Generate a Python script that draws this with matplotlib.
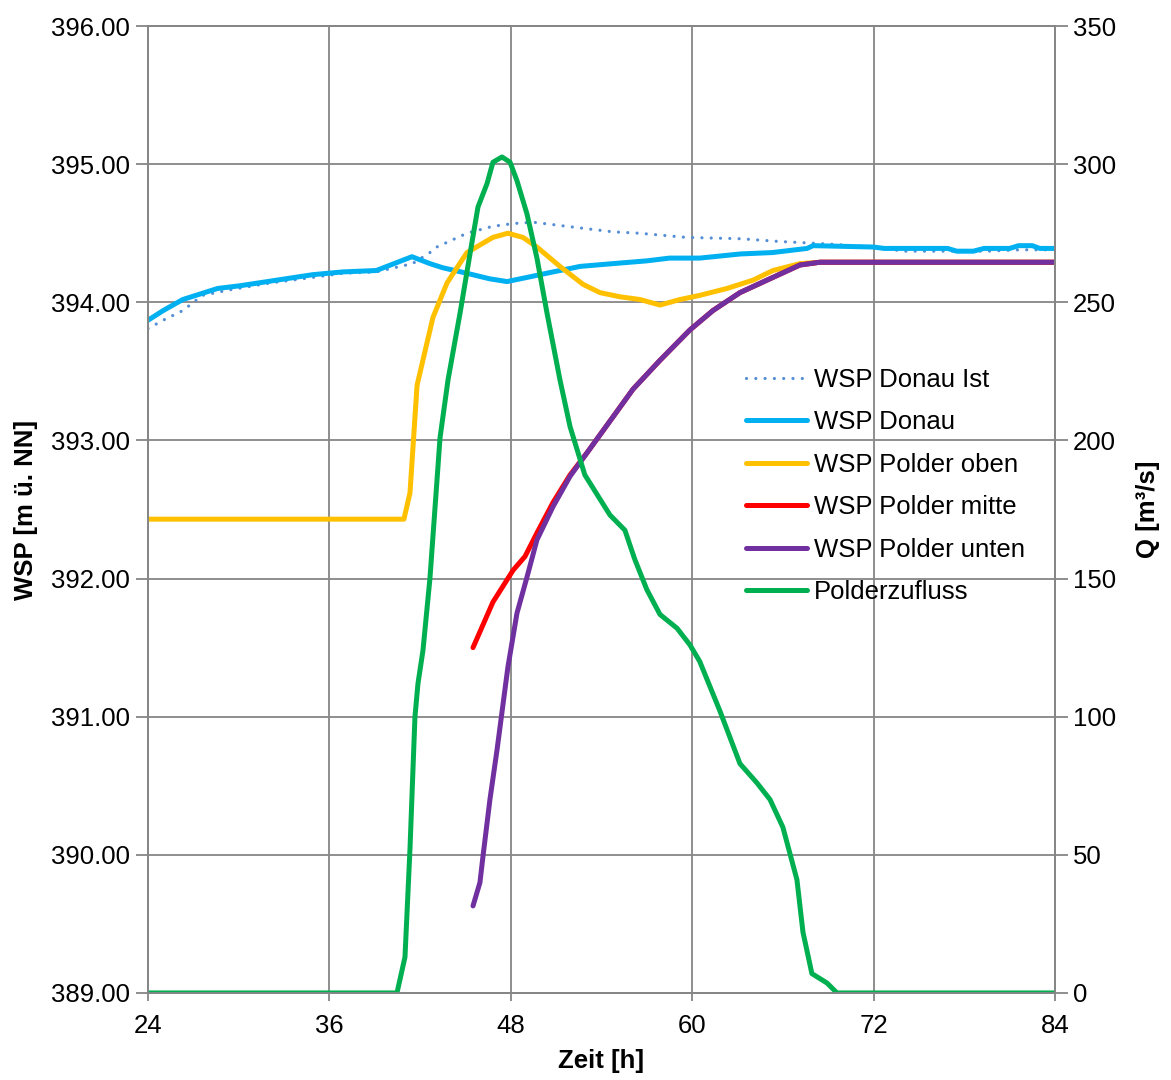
import matplotlib.pyplot as plt
from matplotlib.ticker import FormatStrFormatter, MultipleLocator

plt.rcParams['font.family'] = ['Liberation Sans', 'DejaVu Sans']

# WSP Donau Ist (dotted)
t_ist = [24.0, 25.0, 26.3, 27.6, 29.4, 32.1, 34.9, 36.9, 39.1, 41.5, 42.65, 43.1,
         45.1, 46.8, 48.15, 49.47, 51.7, 54.76, 56.5, 59.6, 63.2, 65.8, 67.6,
         69.3, 72.0, 74.0, 76.5, 79.5, 81.7, 84.0]
wsp_ist = [393.81, 393.87, 393.94, 394.05, 394.09, 394.14, 394.18, 394.21, 394.22,
           394.28, 394.36, 394.40, 394.50, 394.55, 394.57, 394.58, 394.55, 394.51,
           394.50, 394.47, 394.46, 394.44, 394.43, 394.42, 394.40, 394.37, 394.37,
           394.37, 394.38, 394.38]

# WSP Donau
t_donau = [24.0, 25.0, 26.3, 28.6, 30.1, 32.5, 34.9, 36.9, 39.1, 41.46, 42.65,
           43.5, 45.1, 46.6, 47.75, 49.07, 50.8, 52.6, 54.76, 57.0, 58.5, 60.5,
           63.2, 65.3, 67.6, 68.0, 72.0, 72.7, 76.9, 77.5, 78.6, 79.3, 81.0, 81.6,
           82.5, 83.0, 84.0]
wsp_donau = [393.87, 393.94, 394.02, 394.10, 394.12, 394.16, 394.20, 394.22, 394.23,
             394.33, 394.28, 394.25, 394.21, 394.17, 394.15, 394.18, 394.22, 394.26,
             394.28, 394.30, 394.32, 394.32, 394.35, 394.36, 394.39, 394.41, 394.40,
             394.39, 394.39, 394.37, 394.37, 394.39, 394.39, 394.41, 394.41, 394.39,
             394.39]

# WSP Polder oben
t_oben = [24.0, 40.93, 41.33, 41.8, 42.85, 43.78, 45.1, 46.82, 47.81, 48.8, 49.73,
          51.25, 52.78, 53.9, 55.22, 56.55, 57.87, 59.19, 60.5, 62.3, 64.02, 65.34,
          67.13, 68.5, 84.0]
wsp_oben = [392.43, 392.43, 392.62, 393.40, 393.89, 394.14, 394.36, 394.47, 394.50,
            394.47, 394.40, 394.26, 394.13, 394.07, 394.04, 394.02, 393.98, 394.02,
            394.05, 394.10, 394.16, 394.23, 394.28, 394.29, 394.29]

# WSP Polder mitte
t_mitte = [45.5, 46.82, 48.15, 48.94, 49.73, 50.79, 51.92, 53.04, 54.76, 56.08,
           57.87, 59.85, 61.37, 63.16, 65.34, 67.13, 68.45, 84.0]
wsp_mitte = [391.50, 391.83, 392.06, 392.16, 392.33, 392.55, 392.75, 392.91, 393.17,
             393.37, 393.58, 393.80, 393.94, 394.07, 394.18, 394.27, 394.29, 394.29]

# WSP Polder unten
t_unten = [45.5, 45.96, 46.15, 46.62, 47.09, 47.81, 48.41, 49.07, 49.73, 50.79,
           51.92, 53.04, 54.76, 56.08, 57.87, 59.85, 61.37, 63.16, 65.34, 67.13,
           68.45, 84.0]
wsp_unten = [389.63, 389.80, 389.98, 390.40, 390.76, 391.36, 391.75, 392.01, 392.28,
             392.52, 392.74, 392.91, 393.17, 393.37, 393.58, 393.80, 393.94, 394.07,
             394.18, 394.27, 394.29, 394.29]

# Polderzufluss [m3/s]
t_q = [24.0, 40.47, 41.0, 41.33, 41.66, 41.86, 42.19, 42.65, 43.32, 43.85, 44.64,
       45.3, 45.83, 46.43, 46.82, 47.42, 47.95, 48.41, 49.07, 49.73, 50.4, 51.25,
       51.92, 52.9, 54.56, 55.55, 56.2, 57.0, 57.87, 59.0, 59.85, 60.5, 61.84,
       63.16, 64.29, 65.15, 66.0, 66.93, 67.33, 67.92, 68.92, 69.58, 84.0]
q_zufluss = [0, 0, 13, 52, 100, 112, 124, 150, 201, 222, 246, 267.5, 284.5, 293,
             300.7, 302.6, 300.7, 294, 282, 266, 246, 222, 205, 187.5, 173, 167.5,
             157, 146, 137, 132, 126, 120, 102, 83, 76, 70, 60, 41, 22, 7, 3.6, 0, 0]

fig = plt.figure(figsize=(11.71, 10.8), dpi=100)
ax = fig.add_axes([0.1264, 0.0806, 0.7745, 0.8953])
ax2 = ax.twinx()

lw = 3.6
l1, = ax.plot(t_ist, wsp_ist, color='#558ED5', lw=2.3, linestyle=(0, (0.01, 2.9)),
              label='WSP Donau Ist')
l2, = ax.plot(t_donau, wsp_donau, color='#00B0F0', lw=lw, label='WSP Donau')
l3, = ax.plot(t_oben, wsp_oben, color='#FFC000', lw=lw, label='WSP Polder oben')
l4, = ax.plot(t_mitte, wsp_mitte, color='#FF0000', lw=lw, label='WSP Polder mitte')
l5, = ax.plot(t_unten, wsp_unten, color='#7030A0', lw=lw, label='WSP Polder unten')
l6, = ax2.plot(t_q, q_zufluss, color='#00B050', lw=lw, label='Polderzufluss')
for l in (l1, l2, l3, l4, l5, l6):
    l.set_solid_capstyle('round')
    l.set_dash_capstyle('round')

ax.set_xlim(24, 84)
ax.set_ylim(389, 396)
ax2.set_ylim(0, 350)
ax.xaxis.set_major_locator(MultipleLocator(12))
ax.yaxis.set_major_locator(MultipleLocator(1))
ax2.yaxis.set_major_locator(MultipleLocator(50))
ax.yaxis.set_major_formatter(FormatStrFormatter('%.2f'))

gcol = '#868686'
ax.grid(True, color=gcol, lw=1.3)
ax.set_axisbelow(True)
for a in (ax, ax2):
    for s in a.spines.values():
        s.set_color(gcol)
        s.set_linewidth(1.3)
    a.tick_params(colors=gcol, labelcolor='black', labelsize=18.5, width=1.3)
ax.tick_params(axis='y', length=9, pad=4)
ax.tick_params(axis='x', length=6, pad=9)
ax2.tick_params(axis='y', length=9, pad=4)

ax.set_xlabel('Zeit [h]', fontsize=18.5, fontweight='bold', labelpad=8)
ax.set_ylabel('WSP [m ü. NN]', fontsize=18.5, fontweight='bold', labelpad=9)
ax2.set_ylabel('Q [m³/s]', fontsize=18.5, fontweight='bold', labelpad=14)

fig.legend(handles=[l1, l2, l3, l4, l5, l6], loc='upper left',
           bbox_to_anchor=(0.617, 0.681), frameon=False, fontsize=18.5,
           handlelength=2.4, handletextpad=0.27, labelspacing=0.72)

fig.savefig('out.png', dpi=100)
